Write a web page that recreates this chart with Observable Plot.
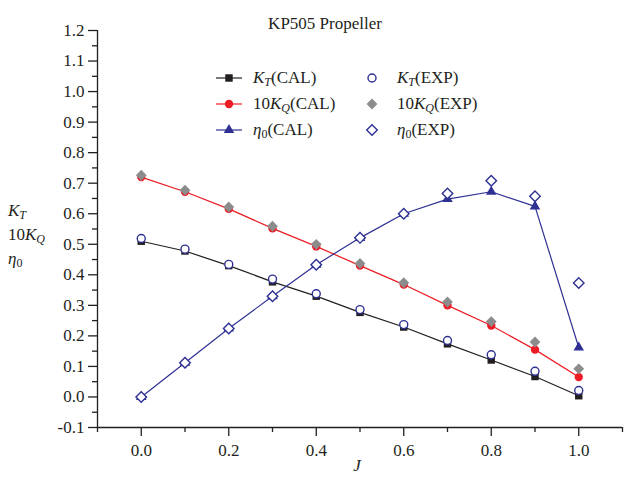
<!DOCTYPE html>
<html>
<head>
<meta charset="utf-8">
<script src="https://cdn.jsdelivr.net/npm/d3@7"></script>
<script src="https://cdn.jsdelivr.net/npm/@observablehq/plot@0.6"></script>
<style>
  body { margin: 0; background: #fff; }
  #wrap { position: relative; width: 629px; height: 482px; font-family: "Liberation Serif", "Times New Roman", serif; color: #231f20; }
  .lab { position: absolute; font-size: 17px; line-height: 24px; white-space: nowrap; }
  .lab sub { font-size: 12px; vertical-align: -3px; line-height: 0; }
  .legrow { position: absolute; height: 26px; display: flex; align-items: center; font-size: 17px; white-space: nowrap; }
  .legrow sub { font-size: 12px; vertical-align: -3px; line-height: 0; }
</style>
</head>
<body>
<div id="wrap"></div>
<script>
// ---- data ----
const J = [0.0, 0.1, 0.2, 0.3, 0.4, 0.5, 0.6, 0.7, 0.8, 0.9, 1.0];
const ktCal  = [0.510, 0.478, 0.430, 0.377, 0.330, 0.277, 0.229, 0.174, 0.121, 0.067, 0.004];
const ktExp  = [0.519, 0.484, 0.434, 0.386, 0.338, 0.286, 0.237, 0.185, 0.138, 0.084, 0.021];
const kqCal  = [0.720, 0.672, 0.616, 0.552, 0.493, 0.430, 0.368, 0.300, 0.234, 0.155, 0.065];
const kqExp  = [0.726, 0.677, 0.622, 0.559, 0.500, 0.437, 0.374, 0.311, 0.247, 0.180, 0.092];
const etaCal = [0.000, 0.112, 0.224, 0.330, 0.433, 0.521, 0.600, 0.648, 0.672, 0.624, 0.162];
const etaExp = [0.000, 0.112, 0.224, 0.330, 0.433, 0.521, 0.600, 0.666, 0.708, 0.657, 0.373];

const xTicks = [0.0, 0.2, 0.4, 0.6, 0.8, 1.0];
const xMinor = [-0.1, 0.1, 0.3, 0.5, 0.7, 0.9, 1.1];
const yTicks = [-0.1, 0.0, 0.1, 0.2, 0.3, 0.4, 0.5, 0.6, 0.7, 0.8, 0.9, 1.0, 1.1, 1.2];
const yMinor = [-0.05, 0.05, 0.15, 0.25, 0.35, 0.45, 0.55, 0.65, 0.75, 0.85, 0.95, 1.05, 1.15];

const titleText = "KP505 Propeller";

const BLACK = "#231f20", RED = "#ed1c24", NAVY = "#2e3192", GRAY = "#8c8c8c";

const rows = arr => J.map((j, i) => ({J: j, v: arr[i]}));

// series definitions (used for both plot and legend)
const calSeries = [
  {data: ktCal,  color: BLACK, symbol: "square",   r: 4.2, fill: BLACK, rotate: 0, label: '<i>K</i><sub><i>T</i></sub>(CAL)'},
  {data: kqCal,  color: RED,   symbol: "circle",   r: 4.2, fill: RED,   rotate: 0, label: '10<i>K</i><sub><i>Q</i></sub>(CAL)'},
  {data: etaCal, color: NAVY,  symbol: "triangle", r: 3.9, fill: NAVY,  rotate: 0, label: '<i>η</i><sub>0</sub>(CAL)'}
];
const expSeries = [
  {data: ktExp,  color: NAVY,  symbol: "circle",   r: 4.0, fill: "white", stroke: NAVY, rotate: 0,  label: '<i>K</i><sub><i>T</i></sub>(EXP)'},
  {data: kqExp,  color: GRAY,  symbol: "square",   r: 4.3, fill: GRAY, stroke: "none", rotate: 45, label: '10<i>K</i><sub><i>Q</i></sub>(EXP)'},
  {data: etaExp, color: NAVY,  symbol: "square",   r: 4.2, fill: "white", stroke: NAVY, rotate: 45, label: '<i>η</i><sub>0</sub>(EXP)'}
];

const marks = [];
// axis lines
marks.push(Plot.ruleX([-0.1], {stroke: BLACK, strokeWidth: 1.3}));
marks.push(Plot.ruleY([-0.1], {stroke: BLACK, strokeWidth: 1.3}));
marks.push(Plot.axisX({ticks: xTicks, tickSize: 9, tickPadding: 7, tickFormat: d => d.toFixed(1), label: null, stroke: BLACK, strokeWidth: 1.3}));
marks.push(Plot.axisX({ticks: xMinor, tickSize: 5, tickFormat: () => "", label: null, stroke: BLACK, strokeWidth: 1.3}));
marks.push(Plot.axisY({ticks: yTicks, tickSize: 9, tickPadding: 4, tickFormat: d => d.toFixed(1), label: null, stroke: BLACK, strokeWidth: 1.3}));
marks.push(Plot.axisY({ticks: yMinor, tickSize: 5, tickFormat: () => "", label: null, stroke: BLACK, strokeWidth: 1.3}));

for (const s of calSeries) {
  marks.push(Plot.line(rows(s.data), {x: "J", y: "v", stroke: s.color, strokeWidth: 1.2}));
}
for (const s of calSeries) {
  marks.push(Plot.dot(rows(s.data), {x: "J", y: "v", symbol: s.symbol, r: s.r, fill: s.fill, stroke: "none", rotate: s.rotate}));
}
for (const s of expSeries) {
  marks.push(Plot.dot(rows(s.data), {x: "J", y: "v", symbol: s.symbol, r: s.r, fill: s.fill, stroke: s.stroke, strokeWidth: 1.4, rotate: s.rotate}));
}
marks.push(Plot.text([titleText], {frameAnchor: "top", dy: -14, dx: -35, fontSize: 17, fill: BLACK}));
marks.push(Plot.text(["J"], {frameAnchor: "bottom", dy: 43, dx: -3, fontSize: 17, fontStyle: "italic", fill: BLACK}));

const chart = Plot.plot({
  width: 629, height: 482,
  marginLeft: 97, marginRight: 7, marginTop: 30, marginBottom: 55,
  x: {domain: [-0.1, 1.1], label: null},
  y: {domain: [-0.1, 1.2], label: null},
  axis: null,
  style: {fontFamily: '"Liberation Serif", "Times New Roman", serif', fontSize: "17px", color: BLACK, background: "white"},
  marks
});

const wrap = document.getElementById("wrap");
wrap.appendChild(chart);

// y axis label (three stacked lines)
const ylab = document.createElement("div");
ylab.className = "lab";
ylab.style.left = "8px";
ylab.style.top = "199px";
ylab.innerHTML = '<i>K</i><sub><i>T</i></sub><br>10<i>K</i><sub><i>Q</i></sub><br><i>η</i><sub>0</sub>';
wrap.appendChild(ylab);

// legend
function symbolSvg(s, withLine) {
  const w = 26, h = 14;
  const sym = {square: d3.symbolSquare, circle: d3.symbolCircle, triangle: d3.symbolTriangle}[s.symbol];
  const path = d3.symbol(sym, Math.PI * s.r * s.r)();
  let out = `<svg width="${w}" height="${h}" style="overflow:visible;display:block">`;
  if (withLine) out += `<line x1="0" x2="${w}" y1="${h/2}" y2="${h/2}" stroke="${s.color}" stroke-width="1.2"/>`;
  out += `<path d="${path}" transform="translate(${w/2},${h/2}) rotate(${s.rotate})" fill="${s.fill}" stroke="${s.stroke || 'none'}" stroke-width="1.4"/>`;
  out += `</svg>`;
  return out;
}
calSeries.forEach((s, i) => {
  const row = document.createElement("div");
  row.className = "legrow";
  row.style.left = "216px";
  row.style.top = (65 + i * 26) + "px";
  row.innerHTML = symbolSvg(s, true) + `<span style="margin-left:11px">${s.label}</span>`;
  wrap.appendChild(row);
});
expSeries.forEach((s, i) => {
  const row = document.createElement("div");
  row.className = "legrow";
  row.style.left = "359px";
  row.style.top = (65 + i * 26) + "px";
  row.innerHTML = symbolSvg(s, false) + `<span style="margin-left:12px">${s.label}</span>`;
  wrap.appendChild(row);
});
</script>
</body>
</html>
